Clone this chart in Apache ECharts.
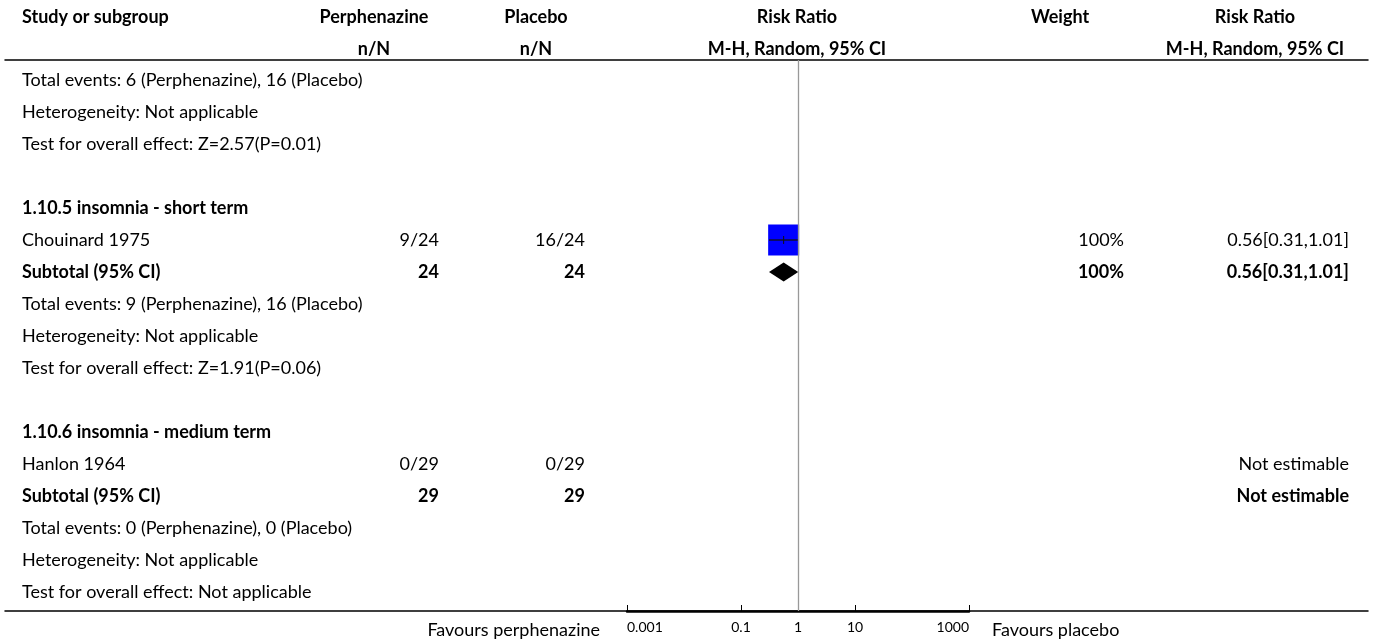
<!DOCTYPE html>
<html>
<head>
<meta charset="utf-8">
<script src="https://cdn.jsdelivr.net/npm/echarts@6/dist/echarts.min.js"></script>
<style>
html,body{margin:0;padding:0;background:#fff;}
#chart{width:1375px;height:644px;}
</style>
</head>
<body>
<div id="chart"></div>
<script>
// ---------- data ----------
const headerTop = ['Study or subgroup', 'Perphenazine', 'Placebo', 'Risk Ratio', 'Weight', 'Risk Ratio'];
const headerSub = ['', 'n/N', 'n/N', 'M-H, Random, 95% CI', '', 'M-H, Random, 95% CI'];

const rowLabels = [
  'Total events: 6 (Perphenazine), 16 (Placebo)',
  'Heterogeneity: Not applicable',
  'Test for overall effect: Z=2.57(P=0.01)',
  '',
  '1.10.5 insomnia - short term',
  'Chouinard 1975',
  'Subtotal (95% CI)',
  'Total events: 9 (Perphenazine), 16 (Placebo)',
  'Heterogeneity: Not applicable',
  'Test for overall effect: Z=1.91(P=0.06)',
  '',
  '1.10.6 insomnia - medium term',
  'Hanlon 1964',
  'Subtotal (95% CI)',
  'Total events: 0 (Perphenazine), 0 (Placebo)',
  'Heterogeneity: Not applicable',
  'Test for overall effect: Not applicable'
];
const rowBold = [0,0,0,0,1,0,1,0,0,0,0,1,0,1,0,0,0];
const perphenazineN = ['','','','','','9/24','24','','','','','','0/29','29','','',''];
const placeboN      = ['','','','','','16/24','24','','','','','','0/29','29','','',''];
const weightText    = ['','','','','','100%','100%','','','','','','','','','',''];
const riskRatioText = ['','','','','','0.56[0.31,1.01]','0.56[0.31,1.01]','','','','','','Not estimable','Not estimable','','',''];

// study estimates
const studyRows   = [5];
const studyRR     = [0.56];
const studyLower  = [0.31];
const studyUpper  = [1.01];
const studyWeight = [100];

// subtotal diamonds
const subtotalRows  = [6];
const subtotalRR    = [0.56];
const subtotalLower = [0.31];
const subtotalUpper = [1.01];

const tickValues = [0.001, 0.1, 1, 10, 1000];
const favourLeft = 'Favours perphenazine';
const favourRight = 'Favours placebo';

// ---------- layout ----------
const FONT = 'Lato';
const FS = 18;
const ROW_TOP = -0.625, ROW_BOTTOM = 16.594;
const colStudyLeft = 22;
const colPerphHeader = 374, colPerphRight = 439;
const colPlacHeader = 536, colPlacRight = 585;
const colRRHeader = 797;
const colWeightHeader = 1060, colWeightRight = 1124;
const colRR2Header = 1255, colRR2Right = 1349;

const chart = echarts.init(document.getElementById('chart'));

function txt(x, y, text, align, bold, size) {
  return {
    type: 'text',
    style: {
      x: x, y: y, text: text,
      align: align, verticalAlign: 'middle',
      font: (bold ? 'bold ' : '') + (size || FS) + 'px ' + FONT,
      fill: '#000'
    }
  };
}

const lg = v => Math.log10(v);

const option = {
  animation: false,
  backgroundColor: '#fff',
  grid: [
    { left: 5, right: 7, top: 60, bottom: 33 },
    { left: 627, width: 342, top: 60, bottom: 33 }
  ],
  xAxis: [
    { gridIndex: 0, type: 'value', min: 5, max: 1368, position: 'bottom',
      axisLine: { show: true, onZero: false, lineStyle: { color: '#000', width: 1.5 } },
      axisTick: { show: false }, axisLabel: { show: false }, splitLine: { show: false } },
    { gridIndex: 0, type: 'value', min: 5, max: 1368, position: 'top',
      axisLine: { show: true, onZero: false, lineStyle: { color: '#000', width: 1.5 } },
      axisTick: { show: false }, axisLabel: { show: false }, splitLine: { show: false } },
    { gridIndex: 1, type: 'value', min: -3, max: 3, position: 'bottom',
      axisLine: { show: true, onZero: false, lineStyle: { color: '#000', width: 2.5 } },
      axisTick: { show: true, inside: true, length: 6, customValues: tickValues.map(lg),
                  lineStyle: { color: '#000', width: 1 } },
      axisLabel: { show: true, customValues: tickValues.map(lg), margin: 9,
                   alignMinLabel: 'left', alignMaxLabel: 'right',
                   fontFamily: FONT, fontSize: 14, color: '#000',
                   formatter: v => String(Number(Math.pow(10, v).toPrecision(1))) },
      splitLine: { show: false } }
  ],
  yAxis: [
    { gridIndex: 0, type: 'value', inverse: true, min: ROW_TOP, max: ROW_BOTTOM, show: false },
    { gridIndex: 1, type: 'value', inverse: true, min: ROW_TOP, max: ROW_BOTTOM, show: false }
  ],
  series: [
    // header text
    {
      type: 'custom', xAxisIndex: 0, yAxisIndex: 0, clip: false,
      data: [[-1.95], [-0.95]],
      renderItem: function (params, api) {
        const i = params.dataIndex;
        const row = api.value(0);
        const y = api.coord([0, row])[1];
        const arr = i === 0 ? headerTop : headerSub;
        const xs = [colStudyLeft, colPerphHeader, colPlacHeader, colRRHeader, colWeightHeader, colRR2Header];
        const children = [];
        arr.forEach((t, k) => {
          if (!t) return;
          const x = api.coord([xs[k], row])[0];
          children.push(txt(x, y, t, k === 0 ? 'left' : 'center', true));
        });
        return { type: 'group', children: children };
      }
    },
    // table rows
    {
      type: 'custom', xAxisIndex: 0, yAxisIndex: 0, clip: false,
      data: rowLabels.map((_, i) => [i]),
      renderItem: function (params, api) {
        const i = params.dataIndex;
        const row = api.value(0);
        const y = api.coord([0, row])[1];
        const b = !!rowBold[i];
        const children = [];
        const put = (col, t, align) => {
          if (!t) return;
          children.push(txt(api.coord([col, row])[0], y, t, align, b));
        };
        put(colStudyLeft, rowLabels[i], 'left');
        put(colPerphRight, perphenazineN[i], 'right');
        put(colPlacRight, placeboN[i], 'right');
        put(colWeightRight, weightText[i], 'right');
        put(colRR2Right, riskRatioText[i], 'right');
        return { type: 'group', children: children };
      }
    },
    // favours labels
    {
      type: 'custom', xAxisIndex: 0, yAxisIndex: 0, clip: false,
      data: [[17.2]],
      renderItem: function (params, api) {
        const row = api.value(0);
        const y = api.coord([0, row])[1];
        return { type: 'group', children: [
          txt(api.coord([600, row])[0], y, favourLeft, 'right', false),
          txt(api.coord([992, row])[0], y, favourRight, 'left', false)
        ]};
      }
    },
    // study squares with CI
    {
      type: 'custom', xAxisIndex: 2, yAxisIndex: 1, clip: false,
      data: studyRows.map((r, i) => [lg(studyRR[i]), lg(studyLower[i]), lg(studyUpper[i]), r, studyWeight[i]]),
      renderItem: function (params, api) {
        const c = api.coord([api.value(0), api.value(3)]);
        const lo = api.coord([api.value(1), api.value(3)]);
        const hi = api.coord([api.value(2), api.value(3)]);
        const size = 31 * Math.sqrt(api.value(4) / 100);
        return { type: 'group', children: [
          { type: 'rect', shape: { x: c[0] - size / 2, y: c[1] - size / 2, width: size, height: size },
            style: { fill: '#0000ff' } },
          { type: 'line', shape: { x1: lo[0], y1: lo[1], x2: hi[0], y2: hi[1] },
            style: { stroke: '#111', lineWidth: 1.3 } },
          { type: 'line', shape: { x1: c[0], y1: c[1] - 4, x2: c[0], y2: c[1] + 4 },
            style: { stroke: '#111', lineWidth: 1 } }
        ]};
      },
      markLine: {
        silent: true, symbol: ['none', 'none'], label: { show: false },
        lineStyle: { color: '#999', width: 1.3, type: 'solid' },
        data: [{ xAxis: 0 }]
      }
    },
    // subtotal diamonds
    {
      type: 'custom', xAxisIndex: 2, yAxisIndex: 1, clip: false,
      data: subtotalRows.map((r, i) => [lg(subtotalRR[i]), lg(subtotalLower[i]), lg(subtotalUpper[i]), r]),
      renderItem: function (params, api) {
        const c = api.coord([api.value(0), api.value(3)]);
        const lo = api.coord([api.value(1), api.value(3)]);
        const hi = api.coord([api.value(2), api.value(3)]);
        const h = 9.5;
        return { type: 'polygon',
          shape: { points: [[lo[0], c[1]], [c[0], c[1] - h], [hi[0], c[1]], [c[0], c[1] + h]] },
          style: { fill: '#000' } };
      }
    }
  ]
};
chart.setOption(option);
</script>
</body>
</html>
